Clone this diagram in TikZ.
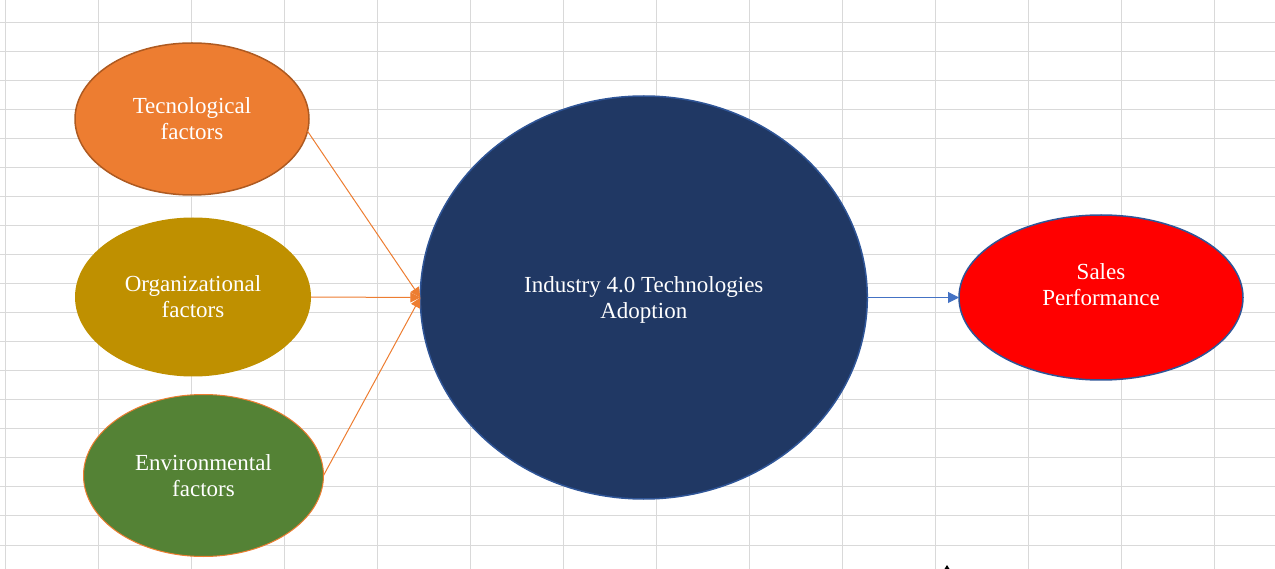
\documentclass[tikz,border=0pt]{standalone}
\usepackage{fontspec}
\setmainfont{Liberation Serif}
\usetikzlibrary{shapes.geometric,arrows.meta}
\definecolor{gridgray}{HTML}{D9D9D9}
\definecolor{tecnofill}{HTML}{ED7D31}
\definecolor{tecnoline}{HTML}{AE5A21}
\definecolor{orgafill}{HTML}{BF9000}
\definecolor{envfill}{HTML}{548235}
\definecolor{adoptfill}{HTML}{203864}
\definecolor{adoptline}{HTML}{2F5597}
\definecolor{salesfill}{HTML}{FF0000}
\definecolor{arroworange}{HTML}{ED7D31}
\definecolor{arrowblue}{HTML}{4472C4}
\begin{document}
\begin{tikzpicture}[x=1pt,y=-1pt,
    factor/.style={ellipse,inner sep=0pt,outer sep=0pt,text=white,align=center,
        font=\fontsize{23}{26}\selectfont,text height=42pt,text depth=0pt},
    feed/.style={draw=arroworange,line width=1pt,-{Triangle[length=10pt,width=10pt]}}]
        \useasboundingbox (0,0) rectangle (1275,569);
        \foreach \k in {0,...,18}
            \draw[gridgray,line width=1pt] (0,22.3+29.04*\k) -- (1275,22.3+29.04*\k);
        \foreach \k in {0,...,13}
            \draw[gridgray,line width=1pt] (5+93*\k,0) -- (5+93*\k,569);

        \node[factor,fill=tecnofill,draw=tecnoline,line width=1.5pt,minimum width=234pt,minimum height=152pt] (tecno) at (192,119){Tecnological\\factors};
        \node[factor,fill=orgafill,minimum width=236pt,minimum height=159pt] (orga) at (193,297){Organizational\\factors};
        \node[factor,fill=envfill,draw=arroworange,line width=1pt,minimum width=240pt,minimum height=162pt] (env) at (203.5,475.5){Environmental\\factors};
        \node[factor,fill=adoptfill,draw=adoptline,line width=1.5pt,minimum width=447pt,minimum height=403pt] (adopt) at (643.8,297.5){Industry 4.0 Technologies\\Adoption};
        \node[factor,fill=salesfill,draw=adoptline,line width=1.5pt,minimum width=284pt,minimum height=165pt,text depth=25pt] (sales) at (1101,297.5){Sales\\Performance};

        \draw[feed] (tecno.-6) -- (adopt.west);
        \draw[feed] (orga.east) -- (adopt.west);
        \draw[feed] (env.east) -- (adopt.west);
        \draw[draw=arrowblue,line width=1pt,-{Triangle[length=11pt,width=11pt]}] (adopt.east) -- (sales.west);

        \fill[black] (944.5,569) -- (947,565) -- (949.5,569) -- cycle;
    \end{tikzpicture}
\end{document}
